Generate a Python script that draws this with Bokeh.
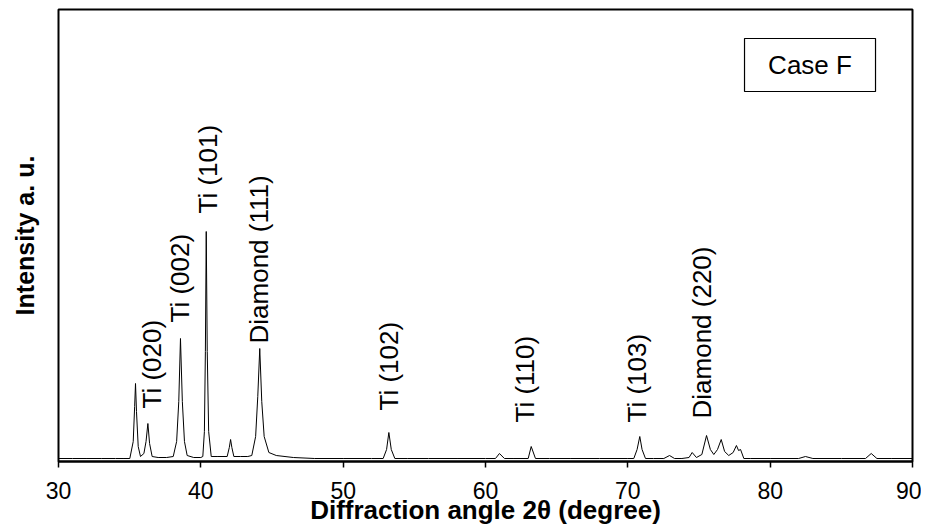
import math
from bokeh.plotting import figure
from bokeh.models import Range1d, FixedTicker
from bokeh.core.properties import value
from bokeh.embed import file_html
from bokeh.resources import INLINE

# ---- data (2-theta in degrees, intensity in a.u.) ----
two_theta = [30.0, 31.0, 32.0, 33.0, 34.0, 34.6, 35.01, 35.25, 35.35, 35.41,
             35.48, 35.6, 35.76, 36.0, 36.15, 36.28, 36.4, 36.58, 37.0, 37.6,
             38.06, 38.3, 38.45, 38.57, 38.7, 38.85, 39.04, 39.5, 40.0, 40.14,
             40.25, 40.32, 40.38, 40.45, 40.55, 40.73, 41.2, 41.85, 42.0, 42.09,
             42.18, 42.32, 42.8, 43.3, 43.58, 43.85, 44.0, 44.14, 44.28, 44.45,
             44.78, 45.3, 46.5, 48.0, 50.0, 52.0, 52.81, 53.05, 53.21, 53.38,
             53.63, 54.5, 56.0, 58.0, 60.0, 60.70, 60.98, 61.33, 62.0, 63.0,
             63.21, 63.51, 64.5, 66.0, 68.0, 70.0, 70.42, 70.65, 70.84, 71.0,
             71.24, 71.8, 72.53, 72.93, 73.28, 73.8, 74.3, 74.52, 74.82, 75.2,
             75.53, 75.8, 76.04, 76.3, 76.56, 76.8, 77.09, 77.4, 77.63, 77.78,
             77.92, 78.15, 78.6, 80.0, 82.0, 82.48, 83.0, 85.0, 86.7, 87.1,
             87.5, 88.5, 90.0]
intensity = [3, 3, 3, 3, 3, 3, 3, 20, 55, 78,
             50, 15, 5, 8, 20, 38, 18, 5, 4, 4,
             5, 20, 60, 123, 60, 20, 6, 4, 4, 5,
             30, 110, 230, 110, 30, 5, 5, 5, 14, 22,
             14, 5, 5, 5, 6, 25, 65, 113, 60, 25,
             9, 6, 4, 3, 3, 3, 3, 12, 29, 12,
             3, 3, 3, 3, 3, 3, 8, 3, 3, 3,
             15, 3, 3, 3, 3, 3, 3, 12, 25, 12,
             3, 3, 3, 6, 3, 3, 4, 9, 4, 7,
             26, 12, 7, 12, 22, 10, 6, 9, 16, 11,
             12, 3, 3, 3, 3, 5, 3, 3, 3, 8,
             3, 3, 3]

peak_labels = ["Ti (020)", "Ti (002)", "Ti (101)", "Diamond (111)",
               "Ti (102)", "Ti (110)", "Ti (103)", "Diamond (220)"]
label_x = [36.58, 38.57, 40.47, 44.11, 53.21, 62.81, 70.66, 75.22]
label_y = [53, 139, 248, 118, 51, 39, 39, 43]

x_ticks = [30, 40, 50, 60, 70, 80, 90]
x_title = "Diffraction angle 2θ (degree)"
y_title = "Intensity a. u."
case_text = ["Case F"]
case_x = [82.8]
case_y = [396.5]

FONT = "Liberation Sans"

p = figure(frame_width=854, frame_height=452, output_backend="svg", toolbar_location=None,
           x_range=Range1d(30, 90), y_range=Range1d(0, 452),
           min_border_left=58, min_border_right=9, min_border_top=9,
           min_border_bottom=60)
p.background_fill_color = "white"
p.border_fill_color = "white"
p.outline_line_color = "black"
p.outline_line_width = 2
p.xgrid.visible = False
p.ygrid.visible = False

ax = p.xaxis[0]
ax.ticker = FixedTicker(ticks=x_ticks)
ax.axis_line_color = "black"
ax.axis_line_width = 2
ax.major_tick_out = 6
ax.major_tick_in = 0
ax.major_tick_line_width = 1.5
ax.minor_tick_line_color = None
ax.major_label_standoff = 14
ax.major_label_text_font = FONT
ax.major_label_text_font_size = "23px"
ax.major_label_text_color = "black"
ax.axis_label = x_title
ax.axis_label_text_font = FONT
ax.axis_label_text_font_style = "bold"
ax.axis_label_text_font_size = "26px"
ax.axis_label_text_color = "black"
ax.axis_label_standoff = -7

ay = p.yaxis[0]
ay.ticker = FixedTicker(ticks=[])
ay.axis_line_color = None
ay.major_tick_out = 0
ay.major_tick_in = 0
ay.minor_tick_line_color = None
ay.major_tick_line_color = None
ay.major_label_standoff = 0
ay.axis_label = y_title
ay.axis_label_text_font = FONT
ay.axis_label_text_font_style = "bold"
ay.axis_label_text_font_size = "25px"
ay.axis_label_text_color = "black"
ay.axis_label_standoff = 20

# spectrum
p.line(two_theta, intensity, line_color="black", line_width=1)

# peak labels
p.text(x=label_x, y=label_y, text=peak_labels, angle=math.pi / 2,
       text_align="left", text_baseline="middle",
       text_font=value(FONT), text_font_size=value("26px"), text_color="black")

# Case F box
p.rect(x=case_x, y=case_y, width=131, height=53, width_units="screen",
       height_units="screen", fill_color="white", line_color="black", line_width=1.2)
p.text(x=case_x, y=case_y, text=case_text, text_align="center", text_baseline="middle",
       text_font=value(FONT), text_font_size=value("26px"), text_color="black")

open("out.html", "w").write(file_html(p, INLINE))
